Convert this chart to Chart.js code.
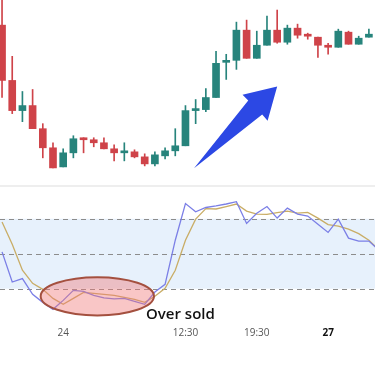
<!DOCTYPE html>
<html>
<head>
<meta charset="utf-8">
<script src="https://cdn.jsdelivr.net/npm/chart.js@4"></script>
<style>
  html,body{margin:0;padding:0;background:#fff;overflow:hidden;}
  #wrap{position:relative;width:375px;height:366px;}
  #price{position:absolute;left:0;top:0;}
  #sep{position:absolute;left:0;top:185px;width:375px;height:2px;background:#eeeeee;}
  #osc{position:absolute;left:0;top:187px;}
</style>
</head>
<body>
<div id="wrap">
  <canvas id="price" width="375" height="185"></canvas>
  <div id="sep"></div>
  <canvas id="osc" width="375" height="179"></canvas>
</div>
<script>
// ---- data ----
const opens  = [175,120,90,95,72,53,34,48,63,61,58,52,48,49,44,37,45,50,55,90,91,103,138,140,170,142,155,170,158,172,165,163,155,153,168,156,163];
const closes = [120,90,95,72,53,33,48,62,61,58,52,48,50,44,37,46,50,55,90,91,103,137,139,170,142,155,170,158,172,165,164,155,153,169,156,162,166];
const highs  = [210,144,109,111,77,58,52,65,63,63,63,56,58,51,47,49,53,72,95,101,112,149,146,178,180,169,184,190,175,176,167,163,157,171,169,164,171];
const lows   = [103,87,79,72,43,33,34,43,48,54,52,40,40,43,35,35,42,45,55,77,89,103,121,131,142,142,155,157,156,162,161,143,146,153,156,156,163];

const stochK = [51.6,25.7,28.6,15.1,8.2,2.2,9.9,18.5,17.7,14.2,12.1,11.2,11.6,9.1,6.5,17.1,23.7,61.6,93.1,86,89.7,91,92.7,94.7,76,84.7,90.5,80.6,89.2,84,82.3,75.4,68.3,79.7,63.4,60.8,60.8,53];
const stochD = [77.2,58.2,35.8,24.6,19.4,11.6,6.5,11.6,16.8,15.9,15.1,14.2,12.5,10.8,8.2,13.4,20.3,35.8,61.6,79.7,88.8,88.4,90.5,92.7,86.6,84,83.8,85.2,86.6,84.9,85.5,80.6,75,73.7,71.1,67.2,61.6,53];

const tickPositions = [6,18,25,32];
const tickLabels = ['24','12:30','19:30','27'];
const levels = [20,50,80];
const overSoldLabel = 'Over sold';

// ---- styling ----
const UP = '#27847c', DOWN = '#cf4349';
const X_MIN = -0.2, X_MAX = 36.6;

const bodies = opens.map((o,i)=>({x:i, y:[o, closes[i]]}));
const wicks  = opens.map((o,i)=>({x:i, y:[lows[i], highs[i]]}));
const candleColor = ctx => {
  const i = ctx.dataIndex;
  if (i === undefined) return UP;
  return closes[i] >= opens[i] ? UP : DOWN;
};

// arrow annotation in data units (index, price)
const arrowPts = [[18.84,32.7],[24.16,100],[23.6,105.7],[27.0,114],[26.06,80],[25.53,86]];

const arrowPlugin = {
  id:'arrow',
  afterDatasetsDraw(chart){
    const {ctx, scales:{x,y}} = chart;
    ctx.save();
    ctx.beginPath();
    arrowPts.forEach((p,k)=>{
      const px = x.getPixelForValue(p[0]), py = y.getPixelForValue(p[1]);
      if(k===0) ctx.moveTo(px,py); else ctx.lineTo(px,py);
    });
    ctx.closePath();
    ctx.fillStyle = '#2c48e4';
    ctx.fill();
    ctx.restore();
  }
};

new Chart(document.getElementById('price'), {
  type:'bar',
  data:{
    datasets:[
      {data:wicks, backgroundColor:candleColor, barThickness:1, grouped:false, order:2},
      {data:bodies, backgroundColor:candleColor, barThickness:7, grouped:false, order:1, minBarLength:2}
    ]
  },
  options:{
    responsive:false, animation:false,
    layout:{padding:0},
    plugins:{legend:{display:false}, tooltip:{enabled:false}},
    scales:{
      x:{type:'linear', min:X_MIN, max:X_MAX, offset:false, display:false},
      y:{type:'linear', min:16, max:200, display:false}
    }
  },
  plugins:[arrowPlugin]
});

// ---- oscillator ----
const bandPlugin = {
  id:'band',
  beforeDatasetsDraw(chart){
    const {ctx, chartArea:a, scales:{y}} = chart;
    const top = y.getPixelForValue(levels[2]), bot = y.getPixelForValue(levels[0]);
    ctx.save();
    ctx.fillStyle = '#e7f1fc';
    ctx.fillRect(0, top, chart.width, bot-top);
    ctx.strokeStyle = '#8c8c8c';
    ctx.lineWidth = 1;
    ctx.setLineDash([5,4]);
    levels.forEach(l=>{
      const py = Math.round(y.getPixelForValue(l))+0.5;
      ctx.beginPath(); ctx.moveTo(0,py); ctx.lineTo(chart.width,py); ctx.stroke();
    });
    ctx.restore();
  },
  afterDatasetsDraw(chart){
    const {ctx, scales:{x,y}} = chart;
    const cx = x.getPixelForValue(9.35), cy = y.getPixelForValue(13.4);
    const rx = Math.abs(x.getPixelForValue(9.35+5.56)-cx);
    const ry = Math.abs(y.getPixelForValue(13.4+16.4)-cy);
    ctx.save();
    ctx.beginPath();
    ctx.ellipse(cx, cy, rx, ry, 0, 0, Math.PI*2);
    ctx.fillStyle = 'rgba(240,120,120,0.42)';
    ctx.fill();
    ctx.lineWidth = 2;
    ctx.strokeStyle = '#a4503f';
    ctx.stroke();
    ctx.fillStyle = '#111';
    ctx.font = '600 15px "Open Sans"';
    ctx.textBaseline = 'alphabetic';
    ctx.fillText(overSoldLabel, x.getPixelForValue(14.13), y.getPixelForValue(-6.5));
    ctx.restore();
  }
};

new Chart(document.getElementById('osc'), {
  type:'line',
  data:{
    labels: stochK.map((_,i)=>i),
    datasets:[
      {data:stochK.map((v,i)=>({x:i,y:v})), borderColor:'#7b7fe6', borderWidth:1.3, pointRadius:0, tension:0, fill:false},
      {data:stochD.map((v,i)=>({x:i,y:v})), borderColor:'#c9ad66', borderWidth:1.3, pointRadius:0, tension:0, fill:false}
    ]
  },
  options:{
    responsive:false, animation:false,
    layout:{padding:{left:0,right:0,top:0,bottom:21}},
    plugins:{legend:{display:false}, tooltip:{enabled:false}},
    scales:{
      x:{
        type:'linear', min:X_MIN, max:X_MAX, offset:false,
        grid:{display:false, drawTicks:false}, border:{display:false},
        afterBuildTicks(scale){ scale.ticks = tickPositions.map(v=>({value:v})); },
        ticks:{
          padding:6, maxRotation:0, autoSkip:false,
          callback:(v)=>{ const k = tickPositions.indexOf(v); return k>=0 ? tickLabels[k] : ''; },
          color:(c)=> (c.tick && c.tick.label==='27') ? '#111' : '#555',
          font:(c)=> ({family:'"Open Sans"', size:10, weight:(c.tick && c.tick.label==='27') ? 'bold' : 'normal'})
        }
      },
      y:{type:'linear', min:-7.8, max:107.3, display:false}
    }
  },
  plugins:[bandPlugin]
});
</script>
</body>
</html>
